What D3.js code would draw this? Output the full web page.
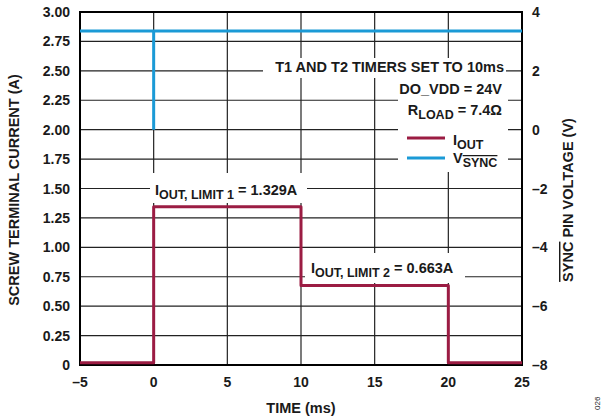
<!DOCTYPE html>
<html><head><meta charset="utf-8">
<script src="https://cdn.jsdelivr.net/npm/d3@7"></script>
<style>
html,body{margin:0;padding:0;background:#fff;}
text{font-family:"Liberation Sans",Arial,sans-serif;font-weight:bold;fill:#1a1a1a;}
</style></head><body>
<svg id="c" width="603" height="419"></svg>
<script>
// ---- data ----
const timeMs   = [-5, 0, 0, 10, 10, 20, 20, 25];
const ioutA    = [0.02, 0.02, 1.345, 1.345, 0.675, 0.675, 0.02, 0.02];
const vsyncTime = [-5, 0, 0, 0, 25];
const vsyncV    = [3.35, 3.35, 0, 3.35, 3.35];
const xTicks = [-5, 0, 5, 10, 15, 20, 25];
const yTicks = [0, 0.25, 0.5, 0.75, 1.0, 1.25, 1.5, 1.75, 2.0, 2.25, 2.5, 2.75, 3.0];
const yRTicks = [-8, -6, -4, -2, 0, 2, 4];

const svg = d3.select("#c");
const L = 80, R = 522, T = 12, B = 365;
const x = d3.scaleLinear().domain([-5, 25]).range([L, R]);
const y = d3.scaleLinear().domain([0, 3]).range([B, T]);
const yR = d3.scaleLinear().domain([-8, 4]).range([B, T]);
const red = "#9b1c43", blue = "#1b9ad6";
const fmtL = d => d === 0 ? "0" : d.toFixed(2);
const fmtN = d => d < 0 ? "\u2013" + Math.abs(d) : String(d);

// grid
const g = svg.append("g");
g.selectAll(".hg").data(yTicks.slice(1, -1)).join("line")
  .attr("x1", L).attr("x2", R).attr("y1", d => y(d)).attr("y2", d => y(d))
  .attr("stroke", "#222").attr("stroke-width", 1.2);
g.selectAll(".vg").data(xTicks.slice(1, -1)).join("line")
  .attr("y1", T).attr("y2", B).attr("x1", d => x(d)).attr("x2", d => x(d))
  .attr("stroke", "#222").attr("stroke-width", 1.2);

// white label boxes (break grid)
const boxes = [[263, 58, 243, 20], [398, 78, 110, 94], [150, 173, 157, 30], [305, 253, 160, 30]];
svg.append("g").selectAll("rect").data(boxes).join("rect")
  .attr("x", d => d[0]).attr("y", d => d[1]).attr("width", d => d[2]).attr("height", d => d[3])
  .attr("fill", "#fff");

// frame
svg.append("rect").attr("x", L).attr("y", T).attr("width", R - L).attr("height", B - T)
  .attr("fill", "none").attr("stroke", "#000").attr("stroke-width", 2);

// series
svg.append("path").datum(vsyncTime.map((t, i) => [t, vsyncV[i]]))
  .attr("d", d3.line().x(d => x(d[0])).y(d => yR(d[1])))
  .attr("fill", "none").attr("stroke", blue).attr("stroke-width", 3);
svg.append("path").datum(timeMs.map((t, i) => [t, ioutA[i]]))
  .attr("d", d3.line().x(d => x(d[0])).y(d => y(d[1])))
  .attr("fill", "none").attr("stroke", red).attr("stroke-width", 3).attr("stroke-linejoin", "round");

// axes labels
const fs = 14.5, ft = 14, sub = 12.5;
svg.append("g").selectAll("text").data(yTicks).join("text")
  .attr("x", 70).attr("y", d => y(d) + 5).attr("text-anchor", "end")
  .attr("font-size", ft).text(fmtL);
svg.append("g").selectAll("text").data(yRTicks).join("text")
  .attr("x", 532).attr("y", d => yR(d) + 5).attr("text-anchor", "start")
  .attr("font-size", ft).text(fmtN);
svg.append("g").selectAll("text").data(xTicks).join("text")
  .attr("x", d => x(d)).attr("y", 387).attr("text-anchor", "middle")
  .attr("font-size", ft).text(fmtN);

svg.append("text").attr("x", 301).attr("y", 413).attr("text-anchor", "middle")
  .attr("font-size", fs).text("TIME (ms)");
svg.append("text").attr("transform", "translate(19,190) rotate(-90)")
  .attr("text-anchor", "middle").attr("font-size", fs).text("SCREW TERMINAL CURRENT (A)");
const rt = svg.append("text").attr("transform", "translate(573,200) rotate(-90)")
  .attr("text-anchor", "middle").attr("font-size", fs);
rt.append("tspan").attr("text-decoration", "overline").text("SYNC");
rt.append("tspan").text(" PIN VOLTAGE (V)");
svg.append("text").attr("transform", "translate(600,410) rotate(-90)")
  .attr("font-size", 8).style("font-weight", "normal").attr("fill", "#555").text("026");

// annotations
svg.append("text").attr("x", 504).attr("y", 72).attr("text-anchor", "end")
  .attr("font-size", fs).text("T1 AND T2 TIMERS SET TO 10ms");
svg.append("text").attr("x", 502).attr("y", 94).attr("text-anchor", "end")
  .attr("font-size", fs).text("DO_VDD = 24V");
const rl = svg.append("text").attr("x", 502).attr("y", 115).attr("text-anchor", "end").attr("font-size", fs);
rl.append("tspan").text("R");
rl.append("tspan").attr("font-size", sub).attr("dy", 4).text("LOAD");
rl.append("tspan").attr("dy", -4).text(" = 7.4\u03A9");

// legend
svg.append("line").attr("x1", 407).attr("x2", 445).attr("y1", 138).attr("y2", 138).attr("stroke", red).attr("stroke-width", 3);
svg.append("line").attr("x1", 407).attr("x2", 445).attr("y1", 158).attr("y2", 158).attr("stroke", blue).attr("stroke-width", 3);
const li = svg.append("text").attr("x", 453).attr("y", 145).attr("font-size", fs);
li.append("tspan").text("I");
li.append("tspan").attr("font-size", sub).attr("dy", 4).text("OUT");
const lv = svg.append("text").attr("x", 453).attr("y", 163).attr("font-size", fs);
lv.append("tspan").text("V");
lv.append("tspan").attr("font-size", sub).attr("dy", 4).attr("text-decoration", "overline").text("SYNC");

function limitLabel(x0, y0, s, val) {
  const t = svg.append("text").attr("x", x0).attr("y", y0).attr("font-size", fs);
  t.append("tspan").text("I");
  t.append("tspan").attr("font-size", sub).attr("dy", 4).text(s);
  t.append("tspan").attr("dy", -4).text(" = " + val);
}
limitLabel(155, 195, "OUT, LIMIT 1", "1.329A");
limitLabel(311, 273, "OUT, LIMIT 2", "0.663A");
</script>
</body></html>
